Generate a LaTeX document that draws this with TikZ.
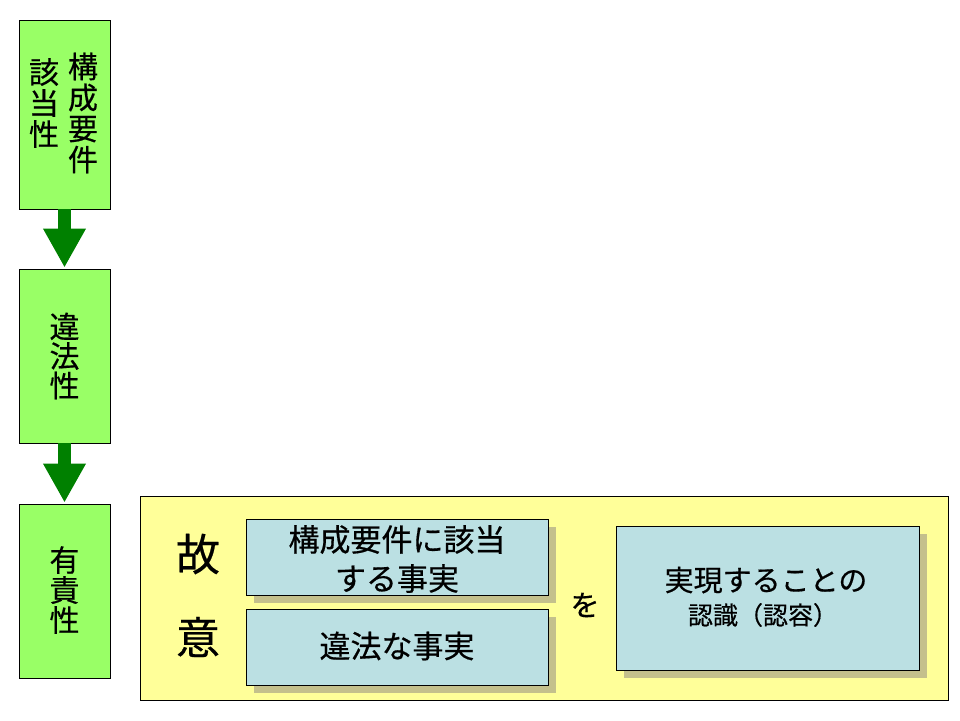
\documentclass[tikz,border=0pt]{standalone}
\usepackage{fontspec}
\setmainfont{Noto Sans CJK JP}[FakeBold=0.5]
\usetikzlibrary{arrows.meta,shadows}
\definecolor{boxgreen}{HTML}{99FF66}
\definecolor{arrowgreen}{HTML}{008000}
\definecolor{paleyellow}{HTML}{FFFF99}
\definecolor{paleblue}{HTML}{BBE0E3}
\definecolor{shadowkhaki}{HTML}{C4C08C}
\tikzset{
  greenbox/.style={draw=black, line width=0.8pt, fill=boxgreen, inner sep=0pt},
  flowarrow/.style={draw=arrowgreen, line width=13pt, -{Triangle[length=39pt,width=40pt]}, shorten >=1pt},
  yellowbox/.style={draw=black, line width=0.8pt, fill=paleyellow, inner sep=0pt},
  bluebox/.style={draw=black, line width=0.8pt, fill=paleblue, inner sep=0pt,
    drop shadow={shadow xshift=8pt, shadow yshift=-8pt, fill=shadowkhaki, opacity=1}},
  vtext/.style={align=center, inner sep=0pt, font=\fontsize{30}{31}\selectfont},
  boxtext/.style={align=center, inner sep=0pt},
}
\begin{document}
\begin{tikzpicture}[x=1pt,y=-1pt]
\useasboundingbox (0,0) rectangle (960,720);
% left column
\node[greenbox, minimum width=91pt, minimum height=189pt] (b1) at (64.5,114.5) {};
\node[greenbox, minimum width=91pt, minimum height=174pt] (b2) at (64.5,356) {};
\node[greenbox, minimum width=91pt, minimum height=174pt] (b3) at (64.5,591) {};
\node[vtext] (t1a) at (83,113) {構\\成\\要\\件};
\node[vtext] (t1b) at (44,103) {該\\当\\性};
\node[vtext, font=\fontsize{30}{29.5}\selectfont] (t2) at (64.5,356) {違\\法\\性};
\node[vtext, font=\fontsize{30}{30}\selectfont] (t3) at (64.5,590) {有\\責\\性};
\draw[flowarrow] (b1.south) -- (b2.north);
\draw[flowarrow] (b2.south) -- (b3.north);
% right panel
\node[yellowbox, minimum width=808pt, minimum height=204pt] (panel) at (544,598) {};
\node[boxtext, font=\fontsize{44}{44}\selectfont] (ko) at (198,554) {故};
\node[boxtext, font=\fontsize{44}{44}\selectfont] (i) at (198,637) {意};
\node[bluebox, minimum width=302pt, minimum height=76pt] (ba) at (397,557) {};
\node[bluebox, minimum width=302pt, minimum height=76pt] (bb) at (397,647) {};
\node[bluebox, minimum width=303pt, minimum height=144pt] (bc) at (767.5,598) {};
\node[boxtext, font=\fontsize{31}{39}\selectfont] (ta) at (397,559) {構成要件に該当\\する事実};
\node[boxtext, font=\fontsize{31}{31}\selectfont] (tb) at (397,646) {違法な事実};
\node[boxtext, font=\fontsize{29}{29}\selectfont] (wo) at (585,605) {を};
\node[boxtext, font=\fontsize{29}{29}\selectfont] (tc1) at (766,580) {実現することの};
\node[boxtext, font=\fontsize{25}{25}\selectfont] (tc2) at (763,615) {認識（認容）};
\end{tikzpicture}
\end{document}
